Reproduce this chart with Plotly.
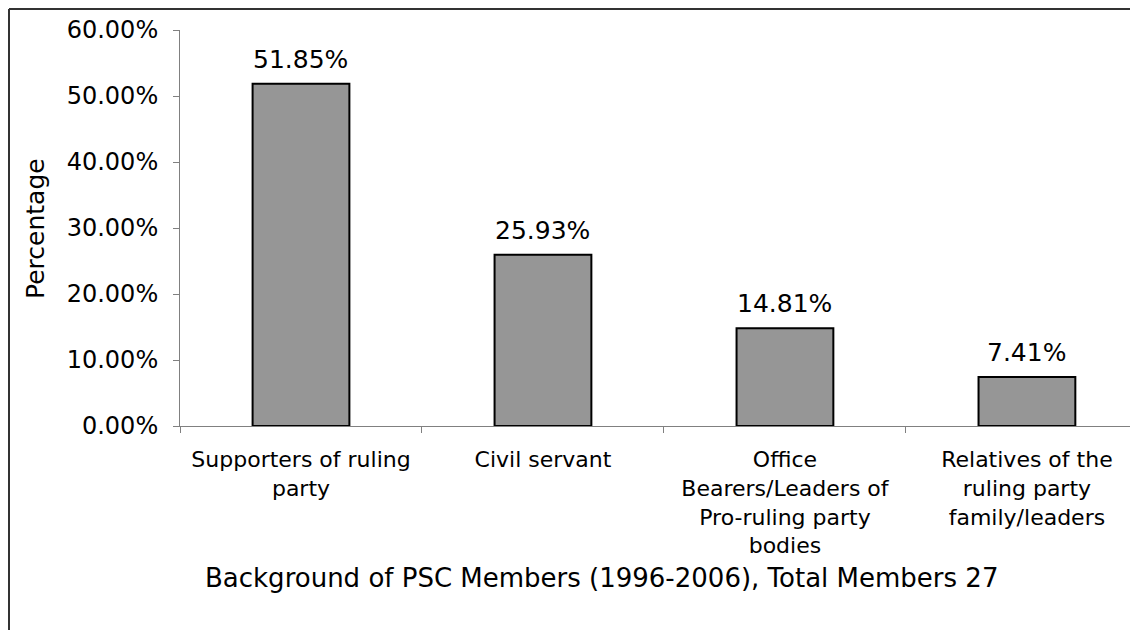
import plotly.graph_objects as go

# ─── Data ─────────────────────────────────────────────────────────────────────
categories = [
    "Supporters of ruling<br>party",
    "Civil servant",
    "Office<br>Bearers/Leaders of<br>Pro-ruling party<br>bodies",
    "Relatives of the<br>ruling party<br>family/leaders",
]
shares = [0.5185, 0.2593, 0.1481, 0.0741]
y_ticks = [0.0, 0.1, 0.2, 0.3, 0.4, 0.5, 0.6]

FONT = "DejaVu Sans, Verdana, sans-serif"
AXIS_GREY = "#808080"

fig = go.Figure(go.Bar(
    x=categories, y=shares, width=0.4,
    marker=dict(color="#969696", line=dict(color="#000000", width=2)),
    hoverinfo="skip",
))

# value labels above bars
for c, v in zip(categories, shares):
    fig.add_annotation(x=c, y=v, text=f"{v:.2%}", showarrow=False,
                       yanchor="bottom", yshift=8,
                       font=dict(family=FONT, size=25, color="#000"))

# axis titles
fig.add_annotation(xref="paper", yref="paper", x=-0.1514, y=0.5,
                   xanchor="center", yanchor="middle",
                   text="Percentage", textangle=-90, showarrow=False,
                   font=dict(family=FONT, size=25, color="#000"))
fig.add_annotation(xref="paper", yref="paper", x=0.4405, y=-0.385,
                   xanchor="center", yanchor="middle",
                   text="Background of PSC Members (1996-2006), Total Members 27",
                   showarrow=False,
                   font=dict(family=FONT, size=26, color="#000"))

# chart-area border (top and left edges visible), drawn at the figure's edge
fig.add_shape(type="line", xref="paper", yref="paper",
              x0=-0.1785, x1=1.02, y0=1.053, y1=1.053,
              line=dict(color="#333333", width=2))
fig.add_shape(type="line", xref="paper", yref="paper",
              x0=-0.1785, x1=-0.1785, y0=1.053, y1=-0.55,
              line=dict(color="#333333", width=2))

# page body adds an 8px offset, so the figure is shifted back by that much
fig.update_layout(
    width=1130, height=622,
    margin=dict(l=172, r=0, t=22, b=204),
    paper_bgcolor="white", plot_bgcolor="white",
    font=dict(family=FONT, color="#000"),
    showlegend=False,
)
fig.update_xaxes(
    type="category", range=[-0.5, 3.459],
    tickson="boundaries", ticks="outside", ticklen=6, tickcolor=AXIS_GREY,
    showline=True, linecolor=AXIS_GREY, linewidth=1,
    showgrid=False, tickfont=dict(family=FONT, size=22),
    ticklabelstandoff=14,
)
fig.update_yaxes(
    range=[0, 0.6], tickvals=y_ticks, tickformat=".2%",
    ticks="outside", ticklen=6, tickcolor=AXIS_GREY,
    showline=True, linecolor=AXIS_GREY, linewidth=1,
    showgrid=False, zeroline=False, tickfont=dict(family=FONT, size=24),
    ticklabelstandoff=10,
)

fig.write_html("out.html")
